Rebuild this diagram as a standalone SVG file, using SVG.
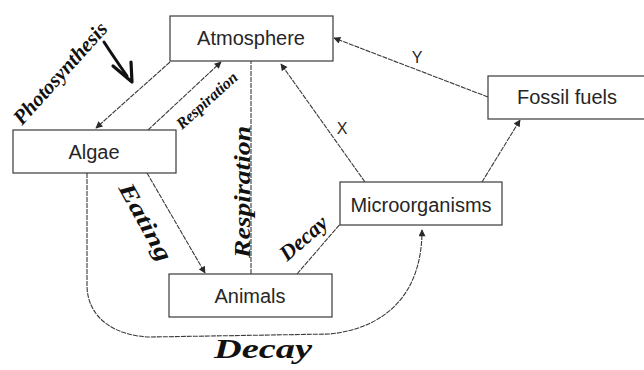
<svg xmlns="http://www.w3.org/2000/svg" width="644" height="370" viewBox="0 0 644 370">
  <style>
    .box { fill: #ffffff; stroke: #3a3a3a; stroke-width: 1.2; }
    .lbl { font-family: "Liberation Sans", Arial, sans-serif; font-size: 20px; fill: #262626; text-anchor: middle; }
    .edge { fill: none; stroke: #3a3a3a; stroke-width: 1.1; stroke-dasharray: 5 1; }
    .tag { font-family: "Liberation Sans", Arial, sans-serif; font-size: 16px; fill: #262626; text-anchor: middle; }
    .hand { font-family: "Liberation Serif", "DejaVu Serif", serif; font-style: italic; font-weight: bold; fill: #111; }
  </style>
  <defs>
    <marker id="arrow" viewBox="0 0 10 10" refX="9" refY="5" markerWidth="8" markerHeight="7" markerUnits="userSpaceOnUse" orient="auto">
      <path d="M0,0 L10,5 L0,10 z" fill="#2a2a2a"/>
    </marker>
  </defs>
  <rect width="644" height="370" fill="#ffffff"/>

  <!-- connectors -->
  <g id="connectors">
    <path class="edge" d="M170,62 L96,128" marker-end="url(#arrow)"/>
    <path class="edge" d="M148,130 L221,62" marker-end="url(#arrow)"/>
    <path class="edge" d="M251,274 L251,61"/>
    <path class="edge" d="M365,182 L281,64" marker-end="url(#arrow)"/>
    <path class="edge" d="M488,97 L334,38" marker-end="url(#arrow)"/>
    <path class="edge" d="M482,182 L520,120" marker-end="url(#arrow)"/>
    <path class="edge" d="M147,173 L205,273" marker-end="url(#arrow)"/>
    <path class="edge" d="M297,274 L341,223"/>
    <path class="edge" d="M87,173 L87,285 C87,318 115,336 150,337 L330,334 C385,328 422,295 422,230" marker-end="url(#arrow)"/>
    <text class="tag" x="342" y="134">X</text>
    <text class="tag" x="417" y="63">Y</text>
  </g>

  <!-- nodes -->
  <g id="atmosphere">
    <rect class="box" x="170" y="16" width="163" height="45"/>
    <text class="lbl" x="251" y="45">Atmosphere</text>
  </g>
  <g id="algae">
    <rect class="box" x="13" y="130" width="163" height="43"/>
    <text class="lbl" x="94" y="159">Algae</text>
  </g>
  <g id="fossil-fuels">
    <rect class="box" x="488" y="76" width="170" height="43"/>
    <text class="lbl" x="567" y="104">Fossil fuels</text>
  </g>
  <g id="microorganisms">
    <rect class="box" x="340" y="182" width="162" height="43"/>
    <text class="lbl" x="421" y="212">Microorganisms</text>
  </g>
  <g id="animals">
    <rect class="box" x="169" y="274" width="163" height="43"/>
    <text class="lbl" x="250" y="303">Animals</text>
  </g>

  <!-- pen annotations -->
  <g id="annotations">
    <text class="hand" font-size="21" transform="translate(22,126) rotate(-48)">Photosynthesis</text>
    <path d="M104,42 Q113,56 127,76" fill="none" stroke="#111" stroke-width="3" stroke-linecap="round"/>
    <path d="M113,66 L132,82 L131,62" fill="none" stroke="#111" stroke-width="3.2" stroke-linecap="round" stroke-linejoin="round"/>
    <text class="hand" font-size="16" transform="translate(182,130) rotate(-42)">Respiration</text>
    <text class="hand" font-size="23" textLength="132" lengthAdjust="spacingAndGlyphs" transform="translate(250,258) rotate(-90)">Respiration</text>
    <text class="hand" font-size="23" textLength="86" lengthAdjust="spacingAndGlyphs" transform="translate(118,188) rotate(61)">Eating</text>
    <text class="hand" font-size="22" transform="translate(287,262) rotate(-41)">Decay</text>
    <text class="hand" font-size="28" textLength="98" lengthAdjust="spacingAndGlyphs" x="214" y="358">Decay</text>
  </g>
</svg>
